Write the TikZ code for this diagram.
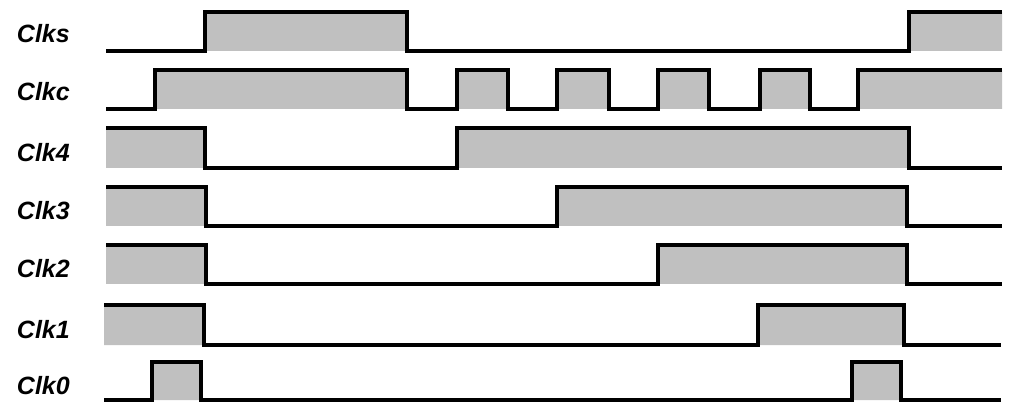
\documentclass[tikz,border=0pt]{standalone}
\usepackage{fontspec}
\setmainfont{Liberation Sans}
\definecolor{wavefill}{HTML}{C0C0C0}
\tikzset{
  wave/.style={line width=3.5pt, black},
  hifill/.style={fill=wavefill, draw=none},
  sig/.style={anchor=base east, font=\bfseries\itshape\fontsize{25}{25}\selectfont, inner sep=0pt}
}
\begin{document}
\begin{tikzpicture}[x=1pt,y=-1pt]
\useasboundingbox (0,0) rectangle (1009,403);
% labels
\node[sig] (lclks) at (70,43) {Clks};
\node[sig] (lclkc) at (70,101) {Clkc};
\node[sig] (lclk4) at (70,162) {Clk4};
\node[sig] (lclk3) at (70,220) {Clk3};
\node[sig] (lclk2) at (70,278) {Clk2};
\node[sig] (lclk1) at (70,338) {Clk1};
\node[sig] (lclk0) at (70,394) {Clk0};
% fills
\fill[hifill] (205,12) rectangle (407,51) (909,12) rectangle (1002,51);
\fill[hifill] (155,70) rectangle (407,109) (457,70) rectangle (508,109)
  (557,70) rectangle (609,109) (658,70) rectangle (709,109)
  (760,70) rectangle (810,109) (858,70) rectangle (1002,109);
\fill[hifill] (106,128) rectangle (205,168) (457,128) rectangle (909,168);
\fill[hifill] (106,187) rectangle (206,226) (557,187) rectangle (907,226);
\fill[hifill] (106,245) rectangle (206,284) (658,245) rectangle (907,284);
\fill[hifill] (104,305) rectangle (204,345) (758,305) rectangle (904,345);
\fill[hifill] (152,362) rectangle (201,400) (852,362) rectangle (901,400);
% waveforms
\draw[wave] (106,51) -| (205,12) -| (407,51) -| (909,12) -- (1002,12);
\draw[wave] (106,109) -| (155,70) -| (407,109) -| (457,70) -| (508,109)
  -| (557,70) -| (609,109) -| (658,70) -| (709,109) -| (760,70) -| (810,109)
  -| (858,70) -- (1002,70);
\draw[wave] (106,128) -| (205,168) -| (457,128) -| (909,168) -- (1002,168);
\draw[wave] (106,187) -| (206,226) -| (557,187) -| (907,226) -- (1002,226);
\draw[wave] (106,245) -| (206,284) -| (658,245) -| (907,284) -- (1002,284);
\draw[wave] (104,305) -| (204,345) -| (758,305) -| (904,345) -- (1001,345);
\draw[wave] (104,400) -| (152,362) -| (201,400) -| (852,362) -| (901,400) -- (1001,400);
\end{tikzpicture}
\end{document}
